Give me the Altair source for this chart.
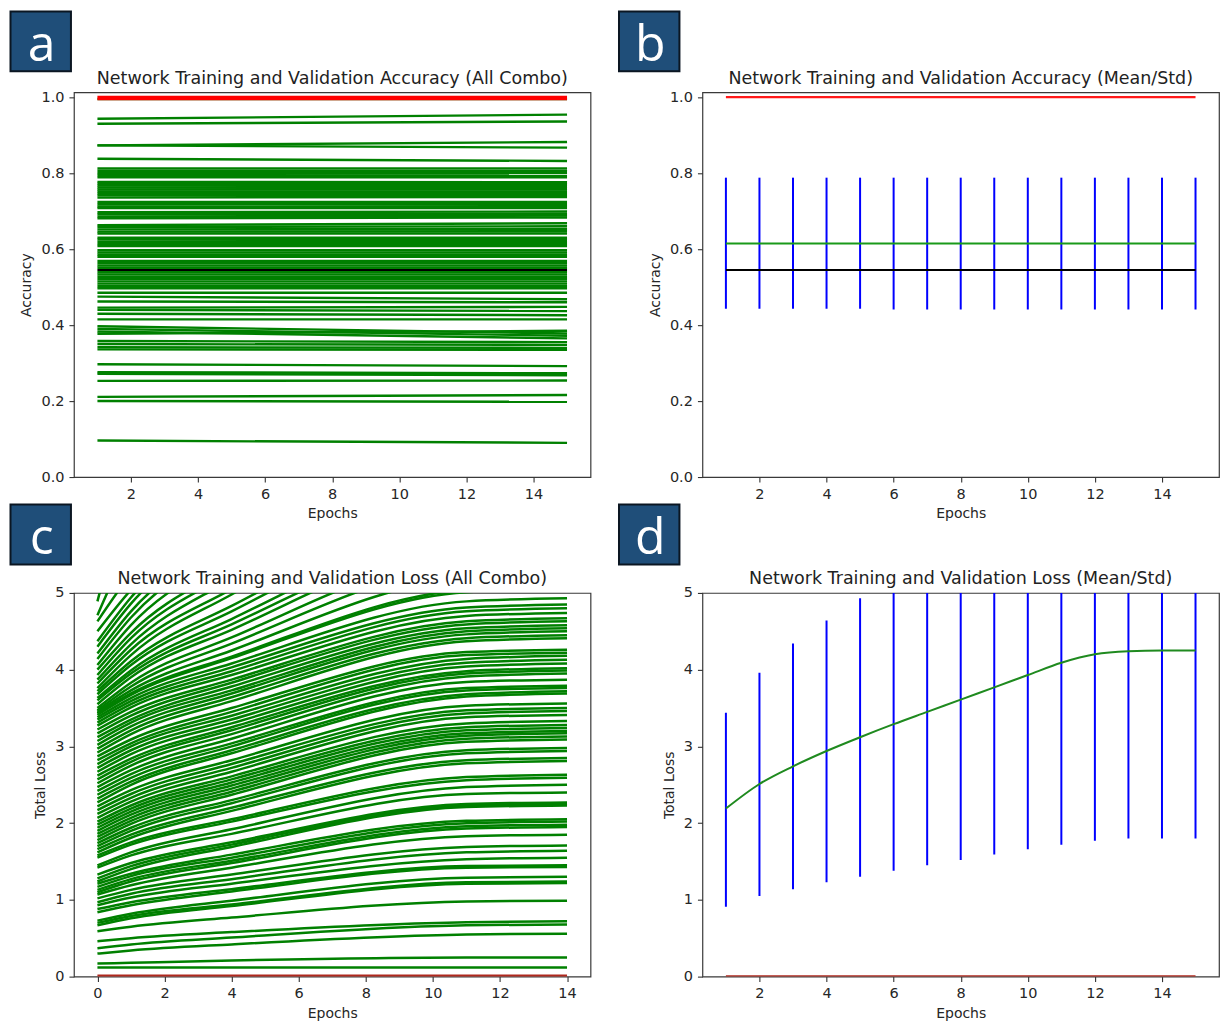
import altair as alt
import pandas as pd

FONT = "DejaVu Sans"
GREEN = "#008000"
BLUE = "#0000ff"
BOX_FILL = "#1f4e79"

# ---------------- data: panel a (accuracy, every combination) ----------------
acc_line_epochs = [1, 15]
acc_ep1 = [0.995, 0.943, 0.930, 0.873, 0.873, 0.838, 0.812, 0.806, 0.800, 0.795, 0.789,
           0.777, 0.772, 0.767, 0.762, 0.757, 0.752, 0.747, 0.742, 0.736, 0.724, 0.718,
           0.712, 0.708, 0.697, 0.692, 0.686, 0.681, 0.663, 0.658, 0.652, 0.646, 0.641,
           0.630, 0.625, 0.619, 0.613, 0.608, 0.597, 0.591, 0.585, 0.580, 0.569, 0.563,
           0.557, 0.551, 0.539, 0.533, 0.527, 0.521, 0.515, 0.509, 0.503, 0.497, 0.485,
           0.475, 0.462, 0.446, 0.440, 0.430, 0.415, 0.397, 0.390, 0.383, 0.377, 0.358,
           0.350, 0.342, 0.336, 0.297, 0.276, 0.272, 0.253, 0.211, 0.200, 0.096]
acc_ep15 = [0.995, 0.954, 0.936, 0.882, 0.867, 0.832, 0.812, 0.805, 0.800, 0.794, 0.789,
            0.776, 0.771, 0.766, 0.761, 0.757, 0.752, 0.747, 0.742, 0.737, 0.724, 0.719,
            0.713, 0.708, 0.699, 0.693, 0.688, 0.683, 0.668, 0.660, 0.653, 0.647, 0.641,
            0.630, 0.624, 0.619, 0.613, 0.608, 0.597, 0.591, 0.585, 0.580, 0.569, 0.563,
            0.557, 0.551, 0.539, 0.533, 0.527, 0.521, 0.515, 0.509, 0.503, 0.497, 0.485,
            0.468, 0.460, 0.448, 0.437, 0.426, 0.415, 0.378, 0.372, 0.365, 0.385, 0.355,
            0.348, 0.340, 0.335, 0.292, 0.273, 0.268, 0.254, 0.216, 0.198, 0.090]
acc_train_line = [0.998, 0.998]
acc_black_line = [0.545, 0.545]

# ---------------- data: panel b (accuracy mean / std) ----------------
mean_epochs = [1, 2, 3, 4, 5, 6, 7, 8, 9, 10, 11, 12, 13, 14, 15]
acc_mean = [0.615, 0.615, 0.615, 0.615, 0.615, 0.615, 0.615, 0.615, 0.615, 0.615, 0.615, 0.615, 0.615, 0.615, 0.615]
acc_lo = [0.443, 0.443, 0.443, 0.443, 0.443, 0.441, 0.441, 0.441, 0.441, 0.441, 0.441, 0.441, 0.441, 0.441, 0.441]
acc_hi = [0.788, 0.788, 0.788, 0.788, 0.788, 0.788, 0.788, 0.788, 0.788, 0.788, 0.788, 0.788, 0.788, 0.788, 0.788]
acc_black = [0.545, 0.545, 0.545, 0.545, 0.545, 0.545, 0.545, 0.545, 0.545, 0.545, 0.545, 0.545, 0.545, 0.545, 0.545]
acc_red = [1.0, 1.0, 1.0, 1.0, 1.0, 1.0, 1.0, 1.0, 1.0, 1.0, 1.0, 1.0, 1.0, 1.0, 1.0]

# ---------------- data: panel c (loss, every combination) ----------------
loss_line_epochs = [0, 1, 4, 11, 14]
loss_ep0 = [0.12, 0.17, 0.30, 0.37, 0.46, 0.59, 0.67, 0.70, 0.73, 0.84, 0.88, 0.93, 0.97, 1.02,
            1.07, 1.10, 1.13, 1.17, 1.21, 1.24, 1.28, 1.33, 1.42, 1.45, 1.55, 1.58, 1.62, 1.66,
            1.70, 1.74, 1.78, 1.82, 1.86, 1.90, 1.94, 1.98, 2.02, 2.07, 2.12, 2.17, 2.22, 2.27,
            2.32, 2.37, 2.42, 2.47, 2.52, 2.57, 2.62, 2.67, 2.72, 2.77, 2.82, 2.87, 2.92, 2.97,
            3.02, 3.07, 3.12, 3.17, 3.22, 3.27, 3.31, 3.35, 3.38,
            3.41, 3.43, 3.45, 3.47, 3.50, 3.55, 3.60, 3.63, 3.68, 3.72, 3.76, 3.82, 3.87, 3.93,
            4.00, 4.06, 4.14, 4.21, 4.30, 4.37, 4.50, 4.63, 4.71, 4.89]
loss_ep1 = [0.12, 0.18, 0.34, 0.42, 0.50, 0.65, 0.76, 0.79, 0.82, 0.93, 0.97, 1.03, 1.08, 1.13,
            1.19, 1.24, 1.27, 1.31, 1.34, 1.40, 1.44, 1.48, 1.58, 1.62, 1.72, 1.75, 1.81, 1.85,
            1.90, 1.94, 1.99, 2.03, 2.07, 2.11, 2.15, 2.19, 2.23, 2.28, 2.33, 2.38, 2.43, 2.50,
            2.54, 2.59, 2.64, 2.69, 2.75, 2.80, 2.84, 2.90, 2.95, 3.00, 3.04, 3.09, 3.16, 3.21,
            3.26, 3.31, 3.35, 3.40, 3.45, 3.51, 3.55, 3.59, 3.63,
            3.67, 3.69, 3.73, 3.78, 3.83, 3.90, 3.95, 3.99, 4.06, 4.11, 4.19, 4.26, 4.33, 4.41,
            4.48, 4.58, 4.68, 4.76, 4.86, 4.94, 5.04, 5.25, 5.67, 6.49]
loss_ep4 = [0.12, 0.21, 0.42, 0.51, 0.58, 0.77, 0.92, 0.94, 0.99, 1.11, 1.14, 1.21, 1.27, 1.33,
            1.42, 1.48, 1.51, 1.55, 1.59, 1.69, 1.72, 1.75, 1.86, 1.92, 2.02, 2.05, 2.16, 2.20,
            2.26, 2.30, 2.37, 2.41, 2.45, 2.49, 2.53, 2.57, 2.61, 2.67, 2.72, 2.77, 2.82, 2.91,
            2.95, 3.00, 3.04, 3.10, 3.16, 3.21, 3.25, 3.30, 3.35, 3.40, 3.45, 3.50, 3.59, 3.64,
            3.69, 3.73, 3.78, 3.83, 3.87, 3.93, 3.98, 4.03, 4.08,
            4.15, 4.17, 4.25, 4.34, 4.42, 4.52, 4.59, 4.66, 4.76, 4.83, 4.98, 5.05, 5.18, 5.27,
            5.36, 5.52, 5.66, 5.75, 5.88, 5.96, 6.02, 6.39, 7.40, 9.39]
loss_ep11 = [0.12, 0.25, 0.55, 0.67, 0.71, 0.98, 1.21, 1.23, 1.29, 1.42, 1.44, 1.53, 1.62, 1.69,
             1.83, 1.93, 1.96, 2.00, 2.03, 2.21, 2.23, 2.25, 2.38, 2.47, 2.56, 2.60, 2.78, 2.82,
             2.91, 2.95, 3.06, 3.10, 3.14, 3.17, 3.21, 3.25, 3.30, 3.38, 3.43, 3.47, 3.53, 3.65,
             3.68, 3.73, 3.76, 3.84, 3.91, 3.95, 3.98, 4.04, 4.09, 4.14, 4.19, 4.23, 4.37, 4.41,
             4.46, 4.50, 4.54, 4.59, 4.63, 4.70, 4.76, 4.81, 4.89,
             5.01, 5.04, 5.19, 5.36, 5.50, 5.66, 5.74, 5.85, 6.02, 6.12, 6.39, 6.49, 6.70, 6.83,
             6.95, 7.22, 7.43, 7.55, 7.71, 7.82, 7.80, 8.43, 10.56, 14.64]
loss_ep14 = [0.12, 0.25, 0.56, 0.68, 0.72, 0.99, 1.22, 1.24, 1.30, 1.43, 1.45, 1.55, 1.64, 1.71,
             1.85, 1.95, 1.98, 2.02, 2.05, 2.23, 2.25, 2.27, 2.40, 2.50, 2.59, 2.63, 2.81, 2.85,
             2.94, 2.98, 3.09, 3.13, 3.17, 3.20, 3.24, 3.28, 3.33, 3.41, 3.46, 3.50, 3.56, 3.69,
             3.72, 3.76, 3.79, 3.87, 3.95, 3.99, 4.02, 4.08, 4.13, 4.18, 4.22, 4.26, 4.41, 4.45,
             4.50, 4.54, 4.58, 4.63, 4.67, 4.74, 4.80, 4.85, 4.93,
             5.05, 5.08, 5.23, 5.41, 5.55, 5.71, 5.79, 5.91, 6.08, 6.18, 6.46, 6.56, 6.77, 6.90,
             7.03, 7.30, 7.51, 7.64, 7.80, 7.91, 7.88, 8.53, 10.71, 14.89]
loss_train_epochs = [0, 14]
loss_train_line = [0.008, 0.008]

# ---------------- data: panel d (loss mean / std) ----------------
loss_mean = [2.19, 2.51, 2.74, 2.94, 3.12, 3.29, 3.45, 3.61, 3.77, 3.93, 4.09, 4.20, 4.24, 4.25, 4.25]
loss_lo = [0.91, 1.05, 1.14, 1.23, 1.30, 1.38, 1.45, 1.52, 1.59, 1.66, 1.72, 1.77, 1.80, 1.80, 1.80]
loss_hi = [3.44, 3.96, 4.34, 4.64, 4.93, 5.20, 5.45, 5.70, 5.95, 6.20, 6.46, 6.63, 6.68, 6.70, 6.70]
loss_red = [0.003, 0.003, 0.003, 0.003, 0.003, 0.003, 0.003, 0.003, 0.003, 0.003, 0.003, 0.003, 0.003, 0.003, 0.003]

panel_titles = [
    "Network Training and Validation Accuracy (All Combo)",
    "Network Training and Validation Accuracy (Mean/Std)",
    "Network Training and Validation Loss (All Combo)",
    "Network Training and Validation Loss (Mean/Std)",
]
panel_letters = ["a", "b", "c", "d"]

# ---------------- tables ----------------
df_a = pd.DataFrame([
    {"line": i, "epoch": e, "val": v}
    for i, vals in enumerate(zip(acc_ep1, acc_ep15))
    for e, v in zip(acc_line_epochs, vals)
])
df_a_red = pd.DataFrame({"epoch": acc_line_epochs, "val": acc_train_line})
df_a_black = pd.DataFrame({"epoch": acc_line_epochs, "val": acc_black_line})

df_b = pd.DataFrame({"epoch": mean_epochs, "val": acc_mean, "lo": acc_lo, "hi": acc_hi,
                     "black": acc_black, "red": acc_red})

df_c = pd.DataFrame([
    {"line": i, "epoch": e, "val": v}
    for i, vals in enumerate(zip(loss_ep0, loss_ep1, loss_ep4, loss_ep11, loss_ep14))
    for e, v in zip(loss_line_epochs, vals)
])
df_c_red = pd.DataFrame({"epoch": loss_train_epochs, "val": loss_train_line})

df_d = pd.DataFrame({"epoch": mean_epochs, "val": loss_mean, "lo": loss_lo, "hi": loss_hi,
                     "red": loss_red})

W = 517
H_TOP = 385
H_BOT = 384


def xenc(domain, values):
    return alt.X("epoch:Q", scale=alt.Scale(domain=domain, nice=False, zero=False),
                 axis=alt.Axis(values=values, format="d", title="Epochs"))


def yenc(field, domain, values, fmt, title):
    return alt.Y(field, scale=alt.Scale(domain=domain, nice=False, zero=False),
                 axis=alt.Axis(values=values, format=fmt, title=title))


def decorations(idx, bx, by):
    d = pd.DataFrame({"t": [panel_letters[idx]], "title": [panel_titles[idx]]})
    box = alt.Chart(d).mark_rect(fill=BOX_FILL, stroke="#0b1622", strokeWidth=2).encode(
        x=alt.value(bx[0]), x2=alt.value(bx[1]), y=alt.value(by[0]), y2=alt.value(by[1]))
    txt = alt.Chart(d).mark_text(font="Open Sans", fontSize=50, color="white",
                                 align="center", baseline="alphabetic").encode(
        x=alt.value((bx[0] + bx[1]) / 2 + 1), y=alt.value(by[1] - 10.5), text="t:N")
    ttl = alt.Chart(d).mark_text(font=FONT, fontSize=17.5, color="#222222",
                                 align="center", baseline="alphabetic").encode(
        x=alt.value(W / 2), y=alt.value(-8.5), text="title:N")
    return [box, txt, ttl]


ACC_DOM = [0, 1.0126]
ACC_TICKS = [0.0, 0.2, 0.4, 0.6, 0.8, 1.0]
LOSS_DOM = [0, 5]
LOSS_TICKS = [0, 1, 2, 3, 4, 5]
X_MEAN_DOM = [0.3, 15.7]
X_MEAN_TICKS = [2, 4, 6, 8, 10, 12, 14]
X_C_DOM = [-0.7, 14.7]
X_C_TICKS = [0, 2, 4, 6, 8, 10, 12, 14]

# ---------------- panel a ----------------
xa = xenc(X_MEAN_DOM, X_MEAN_TICKS)
ya = yenc("val:Q", ACC_DOM, ACC_TICKS, ".1f", "Accuracy")
a_lines = alt.Chart(df_a).mark_line(color=GREEN, strokeWidth=2.4, clip=True).encode(
    x=xa, y=ya, detail="line:N")
a_black = alt.Chart(df_a_black).mark_line(color="black", strokeWidth=2.2).encode(x=xa, y=ya)
a_red = alt.Chart(df_a_red).mark_line(color="#ff0000", strokeWidth=4.5).encode(x=xa, y=ya)
panel_a = alt.layer(a_lines, a_black, a_red,
                    *decorations(0, (-63.5, -3), (-81, -21))).properties(
    width=W, height=H_TOP)

# ---------------- panel b ----------------
xb = xenc(X_MEAN_DOM, X_MEAN_TICKS)
yb = yenc("val:Q", ACC_DOM, ACC_TICKS, ".1f", "Accuracy")
b_bars = alt.Chart(df_b).mark_rule(color=BLUE, strokeWidth=2).encode(
    x=xb, y=yenc("lo:Q", ACC_DOM, ACC_TICKS, ".1f", "Accuracy"), y2="hi:Q")
b_green = alt.Chart(df_b).mark_line(color="#1a9a1a", strokeWidth=2).encode(x=xb, y=yb)
b_black = alt.Chart(df_b).mark_line(color="black", strokeWidth=1.8).encode(
    x=xb, y=yenc("black:Q", ACC_DOM, ACC_TICKS, ".1f", "Accuracy"))
b_red = alt.Chart(df_b).mark_line(color="#ff1a1a", strokeWidth=2.2).encode(
    x=xb, y=yenc("red:Q", ACC_DOM, ACC_TICKS, ".1f", "Accuracy"))
panel_b = alt.layer(b_bars, b_green, b_black, b_red,
                    *decorations(1, (-83.5, -23), (-81, -21))).properties(
    width=W, height=H_TOP)

# ---------------- panel c ----------------
xc = xenc(X_C_DOM, X_C_TICKS)
yc = yenc("val:Q", LOSS_DOM, LOSS_TICKS, "d", "Total Loss")
c_lines = alt.Chart(df_c).mark_line(color=GREEN, strokeWidth=2.5, clip=True,
                                    interpolate="monotone").encode(
    x=xc, y=yc, detail="line:N")
c_red = alt.Chart(df_c_red).mark_line(color="#b0281e", strokeWidth=3, clip=True).encode(x=xc, y=yc)
panel_c = alt.layer(c_lines, c_red,
                    *decorations(2, (-63.5, -3), (-88.5, -28.5))).properties(
    width=W, height=H_BOT)

# ---------------- panel d ----------------
xd = xenc(X_MEAN_DOM, X_MEAN_TICKS)
yd = yenc("val:Q", LOSS_DOM, LOSS_TICKS, "d", "Total Loss")
d_bars = alt.Chart(df_d).mark_rule(color=BLUE, strokeWidth=2, clip=True).encode(
    x=xd, y=yenc("lo:Q", LOSS_DOM, LOSS_TICKS, "d", "Total Loss"), y2="hi:Q")
d_green = alt.Chart(df_d).mark_line(color="#1f8a1f", strokeWidth=2,
                                    interpolate="monotone").encode(x=xd, y=yd)
d_red = alt.Chart(df_d).mark_line(color="#b0281e", strokeWidth=2.5, clip=True).encode(
    x=xd, y=yenc("red:Q", LOSS_DOM, LOSS_TICKS, "d", "Total Loss"))
panel_d = alt.layer(d_bars, d_green, d_red,
                    *decorations(3, (-83.5, -23), (-88.5, -28.5))).properties(
    width=W, height=H_BOT)

chart = alt.concat(
    panel_a, panel_b, panel_c, panel_d,
    columns=2, spacing={"row": 116, "column": 112}, bounds="flush",
).properties(
    padding={"left": 0, "top": 1, "right": 0, "bottom": 0},
).configure_view(
    stroke="#3a3a3a", strokeWidth=1.2,
).configure_axis(
    grid=False, domain=False,
    labelFont=FONT, labelFontSize=14.5, labelColor="#262626",
    titleFont=FONT, titleFontSize=14, titleFontWeight="normal", titleColor="#262626",
    tickColor="#333333", tickWidth=1.1, tickSize=5,
).configure_axisX(
    labelPadding=5, titlePadding=6,
).configure_axisY(
    labelPadding=5, titlePadding=7,
)

chart.save("out.html", embed_options={"renderer": "svg", "actions": False})
